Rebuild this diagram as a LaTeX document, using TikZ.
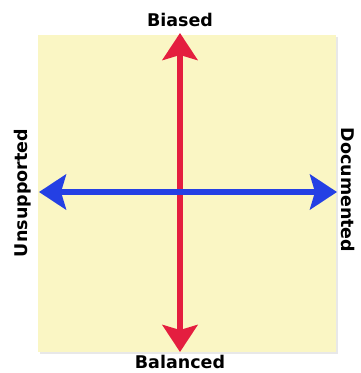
\documentclass[tikz,border=0pt]{standalone}
\usepackage{fontspec}
\setmainfont{DejaVu Sans}
\usetikzlibrary{arrows.meta}
\definecolor{padfill}{HTML}{FAF6C4}
\definecolor{axisred}{HTML}{E41E3F}
\definecolor{axisblue}{HTML}{2440E4}
\definecolor{shadowgrey}{HTML}{E8E8E8}
\tikzset{
  axis/.style={line width=5.5pt, -{Stealth[length=27pt,width=35pt,inset=5pt]}},
  lbl/.style={font=\fontsize{17.5}{20}\selectfont\bfseries, inner sep=0pt, text=black}
}
\begin{document}
\begin{tikzpicture}[x=1pt,y=-1pt]
\useasboundingbox (0,0) rectangle (360,373);
\fill[shadowgrey] (39.5,37) rectangle (338,354);
\fill[padfill] (37.5,35) rectangle (335.5,352);
\coordinate (top) at (180,33);
\coordinate (bot) at (180,352);
\coordinate (lft) at (39,192);
\coordinate (rgt) at (337,192);
\coordinate (mid) at (180,192);
\draw[axis, axisred] (mid) -- (top);
\draw[axis, axisred] (mid) -- (bot);
\draw[axis, axisblue] (mid) -- (lft);
\draw[axis, axisblue] (mid) -- (rgt);
\node[lbl] (biased) at (180,20) {Biased};
\node[lbl] (balanced) at (180,362) {Balanced};
\node[lbl, rotate=90] (unsup) at (23,193) {Unsupported};
\node[lbl, rotate=-90] (doc) at (348,190) {Documented};
\end{tikzpicture}
\end{document}
